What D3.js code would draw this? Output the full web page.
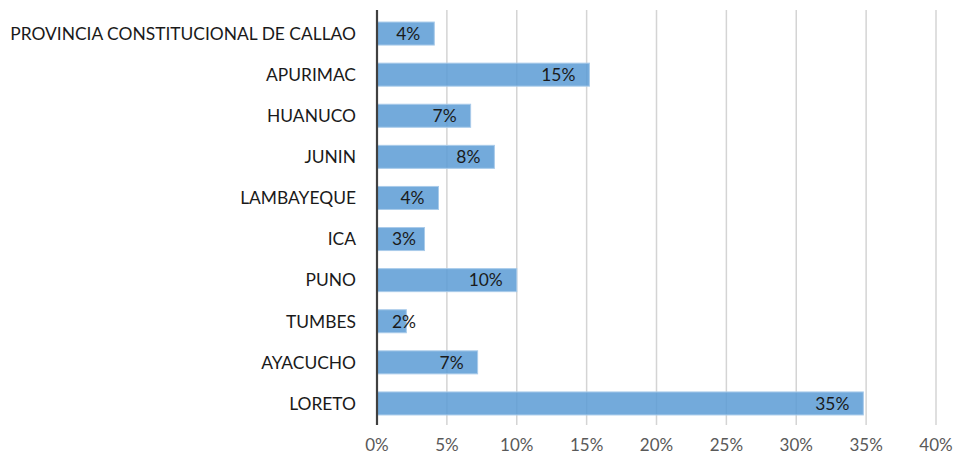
<!DOCTYPE html>
<html lang="es">
<head>
<meta charset="utf-8">
<title>Porcentaje por región</title>
<script src="https://cdn.jsdelivr.net/npm/d3@7"></script>
<style>
  body { margin: 0; background: #fff; }
  text { font-family: Lato, "Open Sans", sans-serif; }
</style>
</head>
<body>
<script>
// categories, top to bottom
const regions = ["PROVINCIA CONSTITUCIONAL DE CALLAO", "APURIMAC", "HUANUCO", "JUNIN",
  "LAMBAYEQUE", "ICA", "PUNO", "TUMBES", "AYACUCHO", "LORETO"];
// share of each region
const shares = [0.041, 0.152, 0.067, 0.084, 0.044, 0.034, 0.100, 0.021, 0.072, 0.348];
// x axis ticks
const ticks = [0, 0.05, 0.10, 0.15, 0.20, 0.25, 0.30, 0.35, 0.40];

const w = 960, h = 455;
const margin = {top: 13, right: 24, bottom: 31, left: 377};

const svg = d3.select("body").append("svg")
  .attr("width", w).attr("height", h);

const x = d3.scaleLinear().domain([0, 0.40]).range([margin.left, w - margin.right]);
const y = d3.scaleBand().domain(regions)
  .range([margin.top, h - margin.bottom]).paddingInner(0.44).paddingOuter(0.22);

// gridlines
svg.append("g").selectAll("line")
  .data(ticks.slice(1)).enter().append("line")
  .attr("x1", d => x(d)).attr("x2", d => x(d))
  .attr("y1", margin.top - 3).attr("y2", h - margin.bottom + 1)
  .attr("stroke", "#d4d4d4").attr("stroke-width", 1.5);

// bars
svg.append("g").selectAll("rect")
  .data(regions).enter().append("rect")
  .attr("x", x(0))
  .attr("y", d => y(d))
  .attr("width", (d, i) => x(shares[i]) - x(0))
  .attr("height", y.bandwidth())
  .attr("fill", "#5b9bd5").attr("fill-opacity", 0.85)
  .attr("stroke", "#a9cbea").attr("stroke-width", 1);

// axis line at 0%
svg.append("line")
  .attr("x1", x(0)).attr("x2", x(0))
  .attr("y1", margin.top - 3).attr("y2", h - margin.bottom + 1)
  .attr("stroke", "#404040").attr("stroke-width", 2.2);

// category labels
svg.append("g").selectAll("text")
  .data(regions).enter().append("text")
  .attr("x", x(0) - 21)
  .attr("y", d => y(d) + y.bandwidth() / 2)
  .attr("dy", "0.36em")
  .attr("text-anchor", "end")
  .attr("font-size", 17.4)
  .attr("fill", "#1a1a1a")
  .text(d => d);

// value labels (inside end, clamped near the axis for short bars)
const fmt = d3.format(".0%");
svg.append("g").selectAll("text")
  .data(regions).enter().append("text")
  .attr("y", d => y(d) + y.bandwidth() / 2)
  .attr("dy", "0.36em")
  .attr("font-size", 17.4)
  .attr("fill", "#1a1a1a")
  .text((d, i) => fmt(shares[i]))
  .each(function(d, i) {
    const tw = this.getComputedTextLength();
    const left = Math.max(x(shares[i]) - 14 - tw, x(0) + 15);
    d3.select(this).attr("x", left);
  });

// x tick labels
svg.append("g").selectAll("text")
  .data(ticks).enter().append("text")
  .attr("x", d => x(d))
  .attr("y", h - 4)
  .attr("text-anchor", "middle")
  .attr("font-size", 17)
  .attr("fill", "#595959")
  .text(d => fmt(d));
</script>
</body>
</html>
